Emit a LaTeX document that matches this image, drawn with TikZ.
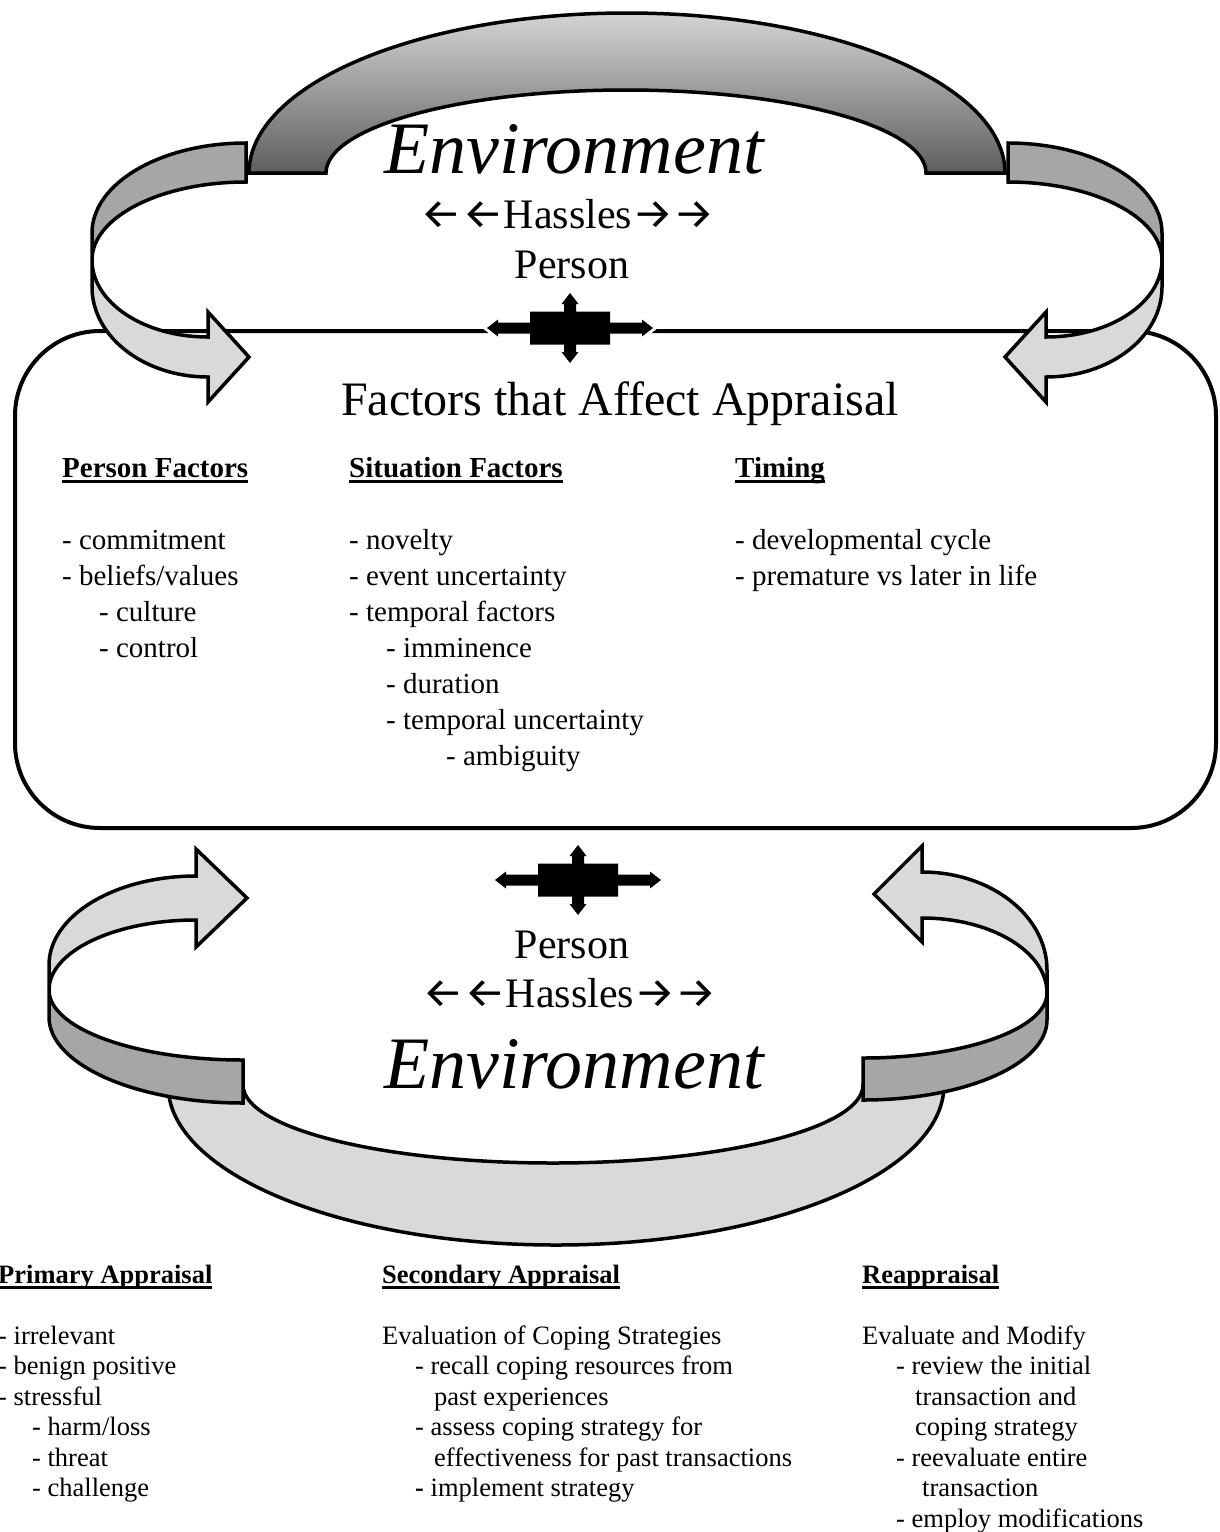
\documentclass[tikz,border=0pt]{standalone}
\usepackage{fontspec}
\setmainfont{Liberation Serif}
\newfontfamily\arrowfont{Fira Sans}
\usepackage{tikz}

\definecolor{backgray}{HTML}{A6A6A6}
\definecolor{frontgray}{HTML}{D9D9D9}
\definecolor{archlight}{HTML}{D4D4D4}
\definecolor{archdark}{HTML}{5E5E5E}

% bold, underlined column heading
\newcommand{\heading}[1]{\setbox0\hbox{\bfseries #1}\rlap{\rule[-0.2em]{\wd0}{0.09em}}\box0}
% arrow glyphs around Hassles
\newcommand{\leftarr}{\scalebox{1.1}[1]{\arrowfont ←}}
\newcommand{\rightarr}{\scalebox{1.1}[1]{\arrowfont →}}

% four-way black arrow between the loops
\tikzset{push/.pic={
    \path[stressor] (0,-35) -- (8.5,-24) -- (6,-24) -- (6,-16.5) -- (40,-16.5) -- (40,-5.5) -- (72,-5.5) -- (72,-8.5) -- (83,0)
        -- (72,8.5) -- (72,5.5) -- (40,5.5) -- (40,16.5) -- (6,16.5) -- (6,24) -- (8.5,24) -- (0,35)
        -- (-8.5,24) -- (-6,24) -- (-6,16.5) -- (-40,16.5) -- (-40,5.5) -- (-72,5.5) -- (-72,8.5) -- (-83,0)
        -- (-72,-8.5) -- (-72,-5.5) -- (-40,-5.5) -- (-40,-16.5) -- (-6,-16.5) -- (-6,-24) -- (-8.5,-24) -- cycle;
}}

\begin{document}
\begin{tikzpicture}[x=1pt, y=-1pt]
    \tikzstyle{ribbon}   = [draw, line width=3.5pt]
    \tikzstyle{back}     = [ribbon, fill=backgray]
    \tikzstyle{front}    = [ribbon, fill=frontgray]
    \tikzstyle{stressor} = [fill=black, preaction={draw=white, line width=6pt}]
    \tikzstyle{env}      = [inner sep=0pt, anchor=base, font=\fontsize{74}{80}\selectfont\itshape]
    \tikzstyle{mid}      = [inner sep=0pt, anchor=base, font=\fontsize{42}{48}\selectfont]
    \tikzstyle{title}    = [inner sep=0pt, anchor=base, font=\fontsize{48}{54}\selectfont]
    \tikzstyle{toplist}  = [inner sep=0pt, anchor=north west, align=left, font=\fontsize{29}{36}\selectfont]
    \tikzstyle{lowlist}  = [inner sep=0pt, anchor=north west, align=left, font=\fontsize{26.5}{30.5}\selectfont]

    \path[use as bounding box, fill=white] (0,0) rectangle (1219,1532);

    % Appraisal box .........................
    \draw[line width=4pt, rounded corners=85pt] (15,331) rectangle (1216,828);
    \pic at (570,328) {push};

    % Top loop .........................
    \path[back] (246,143) arc[start angle=270, end angle=180, x radius=154, y radius=90] -- (92,260)
        arc[start angle=180, end angle=270, x radius=154, y radius=78] -- cycle;
    \path[front] (92,260) arc[start angle=180, end angle=90, x radius=116, y radius=77]
        -- (208,312) -- (249,357) -- (208,402) -- (208,377)
        arc[start angle=90, end angle=180, x radius=116, y radius=90] -- cycle;
    \path[back] (1008,143) arc[start angle=270, end angle=360, x radius=154, y radius=90] -- (1162,260)
        arc[start angle=0, end angle=-90, x radius=154, y radius=78] -- cycle;
    \path[front] (1162,260) arc[start angle=0, end angle=90, x radius=116, y radius=77]
        -- (1046,312) -- (1005,357) -- (1046,402) -- (1046,377)
        arc[start angle=90, end angle=0, x radius=116, y radius=90] -- cycle;
    \path[ribbon, top color=archlight, bottom color=archdark]
        (249,173) arc[start angle=180, end angle=360, x radius=378, y radius=160] -- (926,173)
        arc[start angle=0, end angle=-180, x radius=300, y radius=83] -- cycle;

    % Bottom loop .........................
    \pic at (578,880) {push};
    \path[front] (168,1085) arc[start angle=180, end angle=0, x radius=388, y radius=160] -- (863,1085)
        arc[start angle=0, end angle=180, x radius=310, y radius=78] -- cycle;
    \path[back] (49,990) arc[start angle=180, end angle=90, x radius=194, y radius=70] -- (243,1103)
        arc[start angle=90, end angle=180, x radius=194, y radius=86] -- cycle;
    \path[front] (196,876) arc[start angle=270, end angle=180, x radius=147, y radius=89] -- (49,990)
        arc[start angle=180, end angle=270, x radius=147, y radius=70]
        -- (196,947) -- (247,898) -- (196,849) -- cycle;
    \path[back] (1047,993) arc[start angle=0, end angle=90, x radius=184, y radius=65] -- (863,1100)
        arc[start angle=90, end angle=0, x radius=184, y radius=80] -- cycle;
    \path[front] (922,872) arc[start angle=270, end angle=360, x radius=125, y radius=98] -- (1047,993)
        arc[start angle=0, end angle=-90, x radius=125, y radius=75]
        -- (922,942) -- (874,894) -- (922,846) -- cycle;

    % Labels .........................
    \node[env] (envtop) at (574,173) {Environment};
    \node[mid] (hasstop) at (568,228) {\leftarr\leftarr Hassles\rightarr\rightarr};
    \node[mid] (perstop) at (572,278) {Person};
    \node[title] (factors) at (620,415) {Factors that Affect Appraisal};

    \node[toplist] (personf) at (62,452) {\rule{0pt}{25pt}\heading{Person Factors}\\[36pt]
        - commitment\\- beliefs/values\\\hspace*{37pt}- culture\\\hspace*{37pt}- control};
    \node[toplist] (situationf) at (349,452) {\rule{0pt}{25pt}\heading{Situation Factors}\\[36pt]
        - novelty\\- event uncertainty\\- temporal factors\\\hspace*{37pt}- imminence\\\hspace*{37pt}- duration\\
        \hspace*{37pt}- temporal uncertainty\\\hspace*{97pt}- ambiguity};
    \node[toplist] (timingf) at (735,452) {\rule{0pt}{25pt}\heading{Timing}\\[36pt]
        - developmental cycle\\- premature vs later in life};

    \node[mid] (perslow) at (572,958) {Person};
    \node[mid] (hasslow) at (570,1007) {\leftarr\leftarr Hassles\rightarr\rightarr};
    \node[env] (envlow) at (574,1088) {Environment};

    \node[lowlist] (primary) at (-2,1261) {\rule{0pt}{22pt}\heading{Primary Appraisal}\\[30.5pt]
        - irrelevant\\- benign positive\\- stressful\\\hspace*{34pt}- harm/loss\\\hspace*{34pt}- threat\\
        \hspace*{34pt}- challenge};
    \node[lowlist] (secondary) at (382,1261) {\rule{0pt}{22pt}\heading{Secondary Appraisal}\\[30.5pt]
        Evaluation of Coping Strategies\\\hspace*{33pt}- recall coping resources from\\
        \hspace*{52pt}past experiences\\\hspace*{33pt}- assess coping strategy for\\
        \hspace*{52pt}effectiveness for past transactions\\\hspace*{33pt}\textbf{-} implement strategy};
    \node[lowlist] (reappraisal) at (862,1261) {\rule{0pt}{22pt}\heading{Reappraisal}\\[30.5pt]
        Evaluate and Modify\\\hspace*{34pt}- review the initial\\\hspace*{53pt}transaction and\\
        \hspace*{53pt}coping strategy\\\hspace*{34pt}- reevaluate entire\\\hspace*{60pt}transaction\\
        \hspace*{34pt}- employ modifications};
\end{tikzpicture}
\end{document}
